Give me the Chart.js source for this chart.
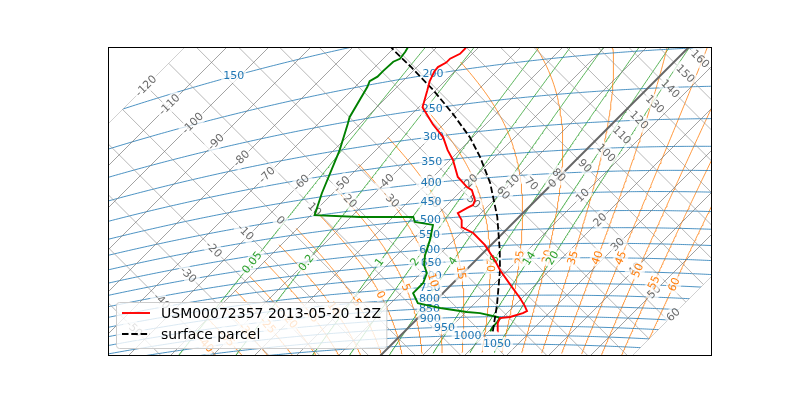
<!DOCTYPE html>
<html>
<head>
<meta charset="utf-8">
<script src="https://cdn.jsdelivr.net/npm/chart.js@4.4.1/dist/chart.umd.min.js"></script>
<style>
  html, body { margin: 0; padding: 0; background: #fff; }
</style>
</head>
<body>
<canvas id="tephigram" width="800" height="400"></canvas>
<script>
// sounding USM00072357 2013-05-20 12Z (hPa, °C)
const tempPressure = [978, 934, 908, 903, 884, 874, 850, 812, 750, 691, 652, 596, 553, 532, 510, 488, 475, 468, 455, 428, 419, 392, 352, 330, 303, 277, 246, 222, 209, 197, 192, 188, 184, 180, 175, 160];
const temperature = [22.1, 20.2, 19.5, 21.7, 23.8, 24.3, 22.6, 19.5, 13.8, 8.1, 4.5, -1.4, -7.1, -11.2, -12.9, -15.5, -14.5, -13.8, -14.5, -17.6, -19.5, -24.1, -29.3, -32.9, -37.1, -42.6, -49.1, -51.9, -53.6, -54.8, -55.0, -54.1, -54.1, -52.9, -52.9, -54.0];
const dewPressure = [978, 960, 928, 908, 902, 881, 874, 849, 832, 820, 772, 730, 689, 656, 619, 567, 518, 504, 488, 471, 448, 391, 300, 254, 243, 202, 195, 191, 185, 176, 174, 167, 162, 150];
const dewpoint = [20.4, 20.0, 19.8, 19.5, 18.6, 13.6, 10.2, 2.9, -1.0, -3.6, -7.1, -7.1, -8.6, -11.2, -13.3, -15.7, -18.6, -23.6, -25.2, -37.9, -49.1, -52.6, -58.6, -62.9, -64.1, -67.1, -67.9, -67.1, -67.1, -66.9, -66.0, -66.4, -66.9, -68.0];
const parcelPressure = [978, 843, 691, 616, 507, 413, 351, 309, 264, 222, 187, 162, 150];
const parcelTemperature = [21.0, 15.7, 8.1, 3.3, -5.2, -15.0, -23.6, -30.7, -40.2, -50.7, -61.2, -69.8, -74.0];

// background isopleths
const isotherms = [-120, -110, -100, -90, -80, -70, -60, -50, -40, -30, -20, -10, 0, 10, 20, 30, 40, 50, 60];
const dryAdiabats = [-50, -40, -30, -20, -10, 0, 10, 20, 30, 40, 50, 60, 70, 80, 90, 100, 110, 120, 130, 140, 150, 160];
const isobars = [150, 200, 250, 300, 350, 400, 450, 500, 550, 600, 650, 700, 750, 800, 850, 900, 950, 1000, 1050];
const wetAdiabats = [-40, -35, -30, -25, -20, -15, -10, -5, 0, 5, 10, 15, 20, 25, 30, 35, 40, 45, 50, 55, 60];
const mixingRatios = [0.05, 0.2, 1, 2, 4, 8, 14, 20];

const KELVIN = 273.15, KAPPA = 0.2857, MA = 300;
const TMIN = -120, TMAX = 60;
const view = {xMin: -69.06, xMax: 74.75, yMin: -69.27, yMax: 4.29};

// tephigram: T and entropy axes turned by 45 degrees
function toXY(t, theta) {
    const s = MA * Math.log((theta + KELVIN) / KELVIN);
    return {x: (t + s) / 2, y: (t - s) / 2};
}
function thetaOf(p, t) {
    return (t + KELVIN) * Math.pow(1000 / p, KAPPA) - KELVIN;
}
function inView(q) {
    return q.x >= view.xMin && q.x <= view.xMax && q.y >= view.yMin && q.y <= view.yMax;
}

function moistLapse(p, tk) {
    const tc = tk - KELVIN;
    const es = 6.112 * Math.exp(17.67 * tc / (tc + 243.5));
    const rs = 0.622 * es / (p - es);
    const num = 287.04 * tk + 2.501e6 * rs;
    const den = 1005.7 + 2.501e6 * 2.501e6 * rs * 0.622 / (287.04 * tk * tk);
    return num / den / p;
}
function rk4(p, tk, dp) {
    const k1 = moistLapse(p, tk);
    const k2 = moistLapse(p + dp / 2, tk + k1 * dp / 2);
    const k3 = moistLapse(p + dp / 2, tk + k2 * dp / 2);
    const k4 = moistLapse(p + dp, tk + k3 * dp);
    return tk + dp * (k1 + 2 * k2 + 2 * k3 + k4) / 6;
}
function wetAdiabatSamples(tw) {
    let up = [], down = [];
    let p = 1000, tk = tw + KELVIN;
    up.push({p, t: tk - KELVIN});
    while (p > 100 && tk > KELVIN - 50) {
        tk = rk4(p, tk, -5); p -= 5;
        up.push({p, t: tk - KELVIN});
    }
    p = 1000; tk = tw + KELVIN;
    while (p < 1100) {
        tk = rk4(p, tk, 5); p += 5;
        down.push({p, t: tk - KELVIN});
    }
    return down.reverse().concat(up).map(s => ({k: s.p, t: s.t, th: thetaOf(s.p, s.t)}));
}
function mixingSamples(r) {
    let out = [];
    for (let p = 1100; p >= 50; p -= 2) {
        const e = p * r / (622 + r);
        const a = Math.log(e / 6.112);
        const td = 243.5 * a / (17.67 - a);
        out.push({k: p, t: td, th: thetaOf(p, td)});
    }
    return out;
}

function midLabel(samples, text, color, useBand, rotate) {
    const pts = samples.map(s => ({k: s.k, t: s.t, q: toXY(s.t, s.th)}));
    const vis = pts.filter(s => inView(s.q) && (!useBand || (s.t >= TMIN && s.t <= TMAX)));
    if (vis.length < 3) return null;
    const ks = vis.map(s => s.k);
    const mid = (Math.min(...ks) + Math.max(...ks)) / 2;
    let best = 0;
    pts.forEach((s, i) => { if (Math.abs(s.k - mid) < Math.abs(pts[best].k - mid)) best = i; });
    return {
        text, color, rotate,
        at: pts[best].q,
        a: pts[Math.max(best - 1, 0)].q,
        b: pts[Math.min(best + 1, pts.length - 1)].q
    };
}

function lineSet(points, color, width, dash) {
    return {
        data: points, borderColor: color, borderWidth: width, borderDash: dash || [],
        pointRadius: 0, showLine: true, fill: false, tension: 0
    };
}

const GRAY_TEXT = 'rgba(70,70,70,0.8)';
let datasets = [];
let labels = [];

datasets.push(lineSet(tempPressure.map((p, i) => toXY(temperature[i], thetaOf(p, temperature[i]))), '#ff0000', 1.9));
datasets.push(lineSet(parcelPressure.map((p, i) => toXY(parcelTemperature[i], thetaOf(p, parcelTemperature[i]))), '#000000', 1.8, [6.5, 2.8]));
datasets.push(lineSet(dewPressure.map((p, i) => toXY(dewpoint[i], thetaOf(p, dewpoint[i]))), '#008000', 1.9));

isotherms.forEach(t => {
    datasets.push(lineSet([toXY(t, -80), toXY(t, 260)], t === 0 ? '#666' : '#7a7a7a', t === 0 ? 2 : 0.7));
    let s = [];
    for (let th = -80; th <= 260; th += 1) s.push({k: th, t, th});
    labels.push(midLabel(s, String(t), GRAY_TEXT, true, true));
});
dryAdiabats.forEach(th => {
    datasets.push(lineSet([toXY(TMIN, th), toXY(TMAX, th)], '#9a9a9a', 0.7));
    let s = [];
    for (let t = TMIN; t <= TMAX; t += 0.5) s.push({k: t, t, th});
    labels.push(midLabel(s, String(th), GRAY_TEXT, true, true));
});
isobars.forEach(p => {
    let s = [];
    for (let t = -150; t <= 120; t += 0.5) s.push({k: t, t, th: thetaOf(p, t)});
    datasets.push(lineSet(s.map(q => toXY(q.t, q.th)), '#1f77b4', 0.8));
    labels.push(midLabel(s, String(p), '#1f77b4', false, false));
});
wetAdiabats.forEach(tw => {
    const s = wetAdiabatSamples(tw);
    datasets.push(lineSet(s.map(q => toXY(q.t, q.th)), '#ff7f0e', 0.8));
    labels.push(midLabel(s, String(tw), '#ff7f0e', true, true));
});
mixingRatios.forEach(r => {
    const s = mixingSamples(r);
    datasets.push(lineSet(s.map(q => toXY(q.t, q.th)), '#2ca02c', 0.8));
    labels.push(midLabel(s, String(r), '#2ca02c', true, true));
});
labels = labels.filter(l => l);

function drawLabel(chart, L) {
    const ctx = chart.ctx, xs = chart.scales.x, ys = chart.scales.y;
    const px = xs.getPixelForValue(L.at.x), py = ys.getPixelForValue(L.at.y);
    let ang = 0;
    if (L.rotate) {
        const dx = xs.getPixelForValue(L.b.x) - xs.getPixelForValue(L.a.x);
        const dy = ys.getPixelForValue(L.b.y) - ys.getPixelForValue(L.a.y);
        ang = Math.atan2(dy, dx);
        if (ang > Math.PI / 2) ang -= Math.PI;
        if (ang < -Math.PI / 2) ang += Math.PI;
    }
    ctx.save();
    ctx.translate(px, py);
    ctx.rotate(ang);
    ctx.font = '11px "DejaVu Sans"';
    const w = ctx.measureText(L.text).width;
    ctx.fillStyle = 'rgba(255,255,255,0.7)';
    ctx.beginPath();
    ctx.roundRect(-w / 2 - 2, -7, w + 4, 14, 3);
    ctx.fill();
    ctx.fillStyle = L.color;
    ctx.textAlign = 'center';
    ctx.textBaseline = 'middle';
    ctx.fillText(L.text, 0, 0.5);
    ctx.restore();
}

function fromTS(chart, t, s) {
    return [chart.scales.x.getPixelForValue((t + s) / 2), chart.scales.y.getPixelForValue((t - s) / 2)];
}

const tephiPlugin = {
    id: 'tephi',
    beforeDatasetDraw(chart, args) {
        if (args.index < 3) return;
        const ctx = chart.ctx;
        ctx.save();
        const poly = [fromTS(chart, TMIN, -300), fromTS(chart, TMIN, 400), fromTS(chart, TMAX, 400), fromTS(chart, TMAX, -300)];
        ctx.beginPath();
        poly.forEach((q, i) => i ? ctx.lineTo(q[0], q[1]) : ctx.moveTo(q[0], q[1]));
        ctx.closePath();
        ctx.clip();
    },
    afterDatasetDraw(chart, args) {
        if (args.index < 3) return;
        chart.ctx.restore();
        if (args.index === 3) labels.forEach(l => drawLabel(chart, l));
    },
    afterDraw(chart) {
        const ctx = chart.ctx, area = chart.chartArea;
        // legend
        const items = [
            {text: 'USM00072357 2013-05-20 12Z', color: '#ff0000', width: 1.9, dash: []},
            {text: 'surface parcel', color: '#000000', width: 1.8, dash: [6.5, 2.8]}
        ];
        ctx.save();
        ctx.font = '14px "DejaVu Sans"';
        const tw = Math.max(...items.map(it => ctx.measureText(it.text).width));
        const left = area.left + 8, bottom = area.bottom - 8;
        const boxW = 5.6 + 28 + 11 + tw + 5.6, boxH = 46, top = bottom - boxH;
        ctx.fillStyle = 'rgba(255,255,255,0.8)';
        ctx.strokeStyle = '#cccccc';
        ctx.lineWidth = 1;
        ctx.beginPath();
        ctx.roundRect(left + 0.5, top + 0.5, boxW, boxH, 3);
        ctx.fill();
        ctx.stroke();
        items.forEach((it, i) => {
            const cy = top + 11 + i * 21;
            ctx.strokeStyle = it.color;
            ctx.lineWidth = it.width;
            ctx.setLineDash(it.dash);
            ctx.beginPath();
            ctx.moveTo(left + 6, cy);
            ctx.lineTo(left + 34, cy);
            ctx.stroke();
            ctx.setLineDash([]);
            ctx.fillStyle = '#000';
            ctx.textBaseline = 'middle';
            ctx.fillText(it.text, left + 45, cy + 1);
        });
        // frame
        ctx.strokeStyle = '#000';
        ctx.lineWidth = 1;
        ctx.strokeRect(area.left + 0.5, area.top + 0.5, area.right - area.left - 1, area.bottom - area.top - 1);
        ctx.restore();
    }
};

new Chart(document.querySelector('#tephigram'), {
    type: 'scatter',
    data: {datasets},
    options: {
        responsive: false,
        animation: false,
        events: [],
        layout: {padding: {left: 108, right: 88, top: 47, bottom: 44}},
        scales: {
            x: {type: 'linear', display: false, min: view.xMin, max: view.xMax},
            y: {type: 'linear', display: false, reverse: true, min: view.yMin, max: view.yMax}
        },
        plugins: {legend: {display: false}, tooltip: {enabled: false}}
    },
    plugins: [tephiPlugin]
});
</script>
</body>
</html>
